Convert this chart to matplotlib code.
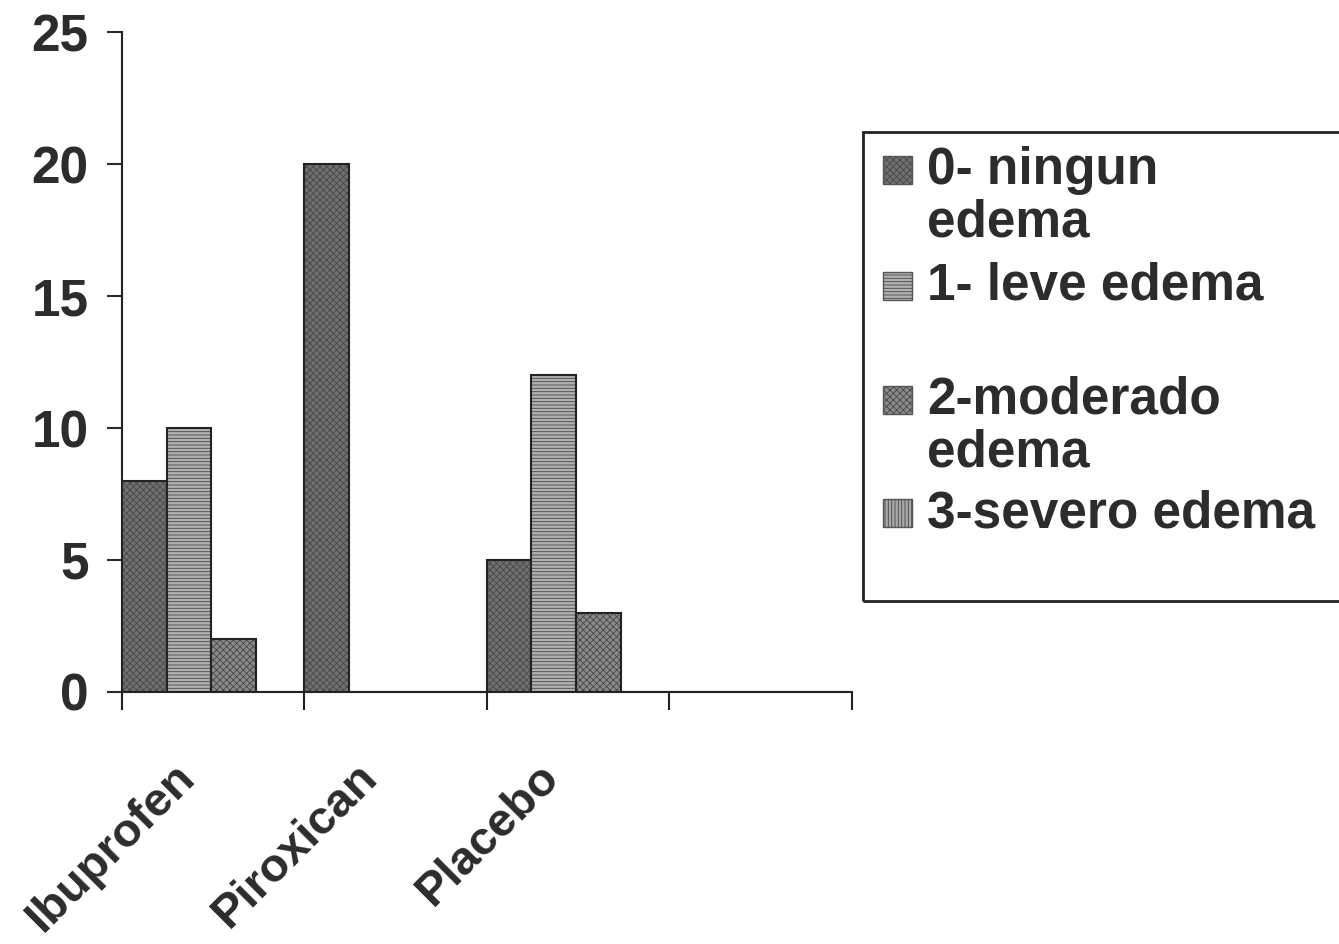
import matplotlib.pyplot as plt
import matplotlib.transforms as mtransforms
from matplotlib.patches import Rectangle
from matplotlib.colors import to_rgba
import numpy as np

plt.rcParams['font.family'] = ['Liberation Sans', 'DejaVu Sans']
plt.rcParams['font.weight'] = 'bold'
plt.rcParams['hatch.linewidth'] = 0.6

# datos del grafico (pacientes por grado de edema)
categorias = ['Ibuprofen', 'Piroxican', 'Placebo', '']
series = ['0- ningun\nedema', '1- leve edema', '2-moderado\nedema', '3-severo edema']
ningun = [8, 20, 5, 0]
leve = [10, 0, 12, 0]
moderado = [2, 0, 3, 0]
severo = [0, 0, 0, 0]
valores = [ningun, leve, moderado, severo]

# estilo de cada serie (gris con textura)
colores = ['#707070', '#b0b0b0', '#8a8a8a', '#a6a6a6']
tramas = ['xxxxx', '-----', 'xxxxx', '|||||']
color_trama = '#474747'
texto = '#2c2c2c'

fig = plt.figure(figsize=(13.39, 9.44), dpi=100)
ax = fig.add_axes([0.091, 0.267, 0.545, 0.699])

x = np.arange(len(categorias))
ancho = 0.245
for i, vals in enumerate(valores):
    ax.bar(x - 0.5 + i * ancho, vals, width=ancho, align='edge',
           color=colores[i], edgecolor='#222222', linewidth=1.5,
           hatch=tramas[i])
for b in ax.patches:
    b._hatch_color = to_rgba(color_trama)

ax.set_xlim(-0.5, 3.5)
ax.set_ylim(0, 25)
ax.set_yticks([0, 5, 10, 15, 20, 25])
ax.tick_params(axis='y', direction='out', length=11, width=1.5, pad=13,
               labelsize=37, colors=texto)

# marcas del eje x en los limites de categoria
ax.set_xticks(np.arange(-0.5, 4, 1), minor=True)
ax.set_xticks(x)
ax.set_xticklabels(categorias)
ax.tick_params(axis='x', which='minor', direction='out', length=13, width=1.5,
               color='#222222')
ax.tick_params(axis='x', which='major', length=0, labelsize=34, pad=6)
desplaza = mtransforms.ScaledTranslation(-0.25, -0.70, fig.dpi_scale_trans)
for lbl in ax.get_xticklabels():
    lbl.set_rotation(45)
    lbl.set_ha('right')
    lbl.set_va('center')
    lbl.set_rotation_mode('anchor')
    lbl.set_color(texto)
    lbl.set_transform(lbl.get_transform() + desplaza)

for lado in ['top', 'right']:
    ax.spines[lado].set_visible(False)
for lado in ['left', 'bottom']:
    ax.spines[lado].set_linewidth(1.5)
    ax.spines[lado].set_color('#222222')

# leyenda dibujada a mano (cuadro recortado a la derecha)
W, H = 1339, 944
fig.patches.append(Rectangle((863 / W, 1 - 601 / H), 520 / W, 469 / H,
                             transform=fig.transFigure, fill=False,
                             edgecolor='#222222', linewidth=2))
pos_cuadro = [170, 286, 400, 513]
for i, etiqueta in enumerate(series):
    yc = 1 - pos_cuadro[i] / H
    fig.patches.append(Rectangle((883 / W, yc - 14 / H), 29 / W, 28 / H,
                                 transform=fig.transFigure,
                                 facecolor=colores[i], edgecolor='#555555',
                                 hatch=tramas[i], linewidth=1))
    fig.text(927 / W, yc + 24 / H, etiqueta, fontsize=37, va='top',
             ha='left', color=texto, linespacing=1.1)
for p in fig.patches:
    p._hatch_color = to_rgba(color_trama)

fig.savefig('out.png', dpi=100, facecolor='white')
